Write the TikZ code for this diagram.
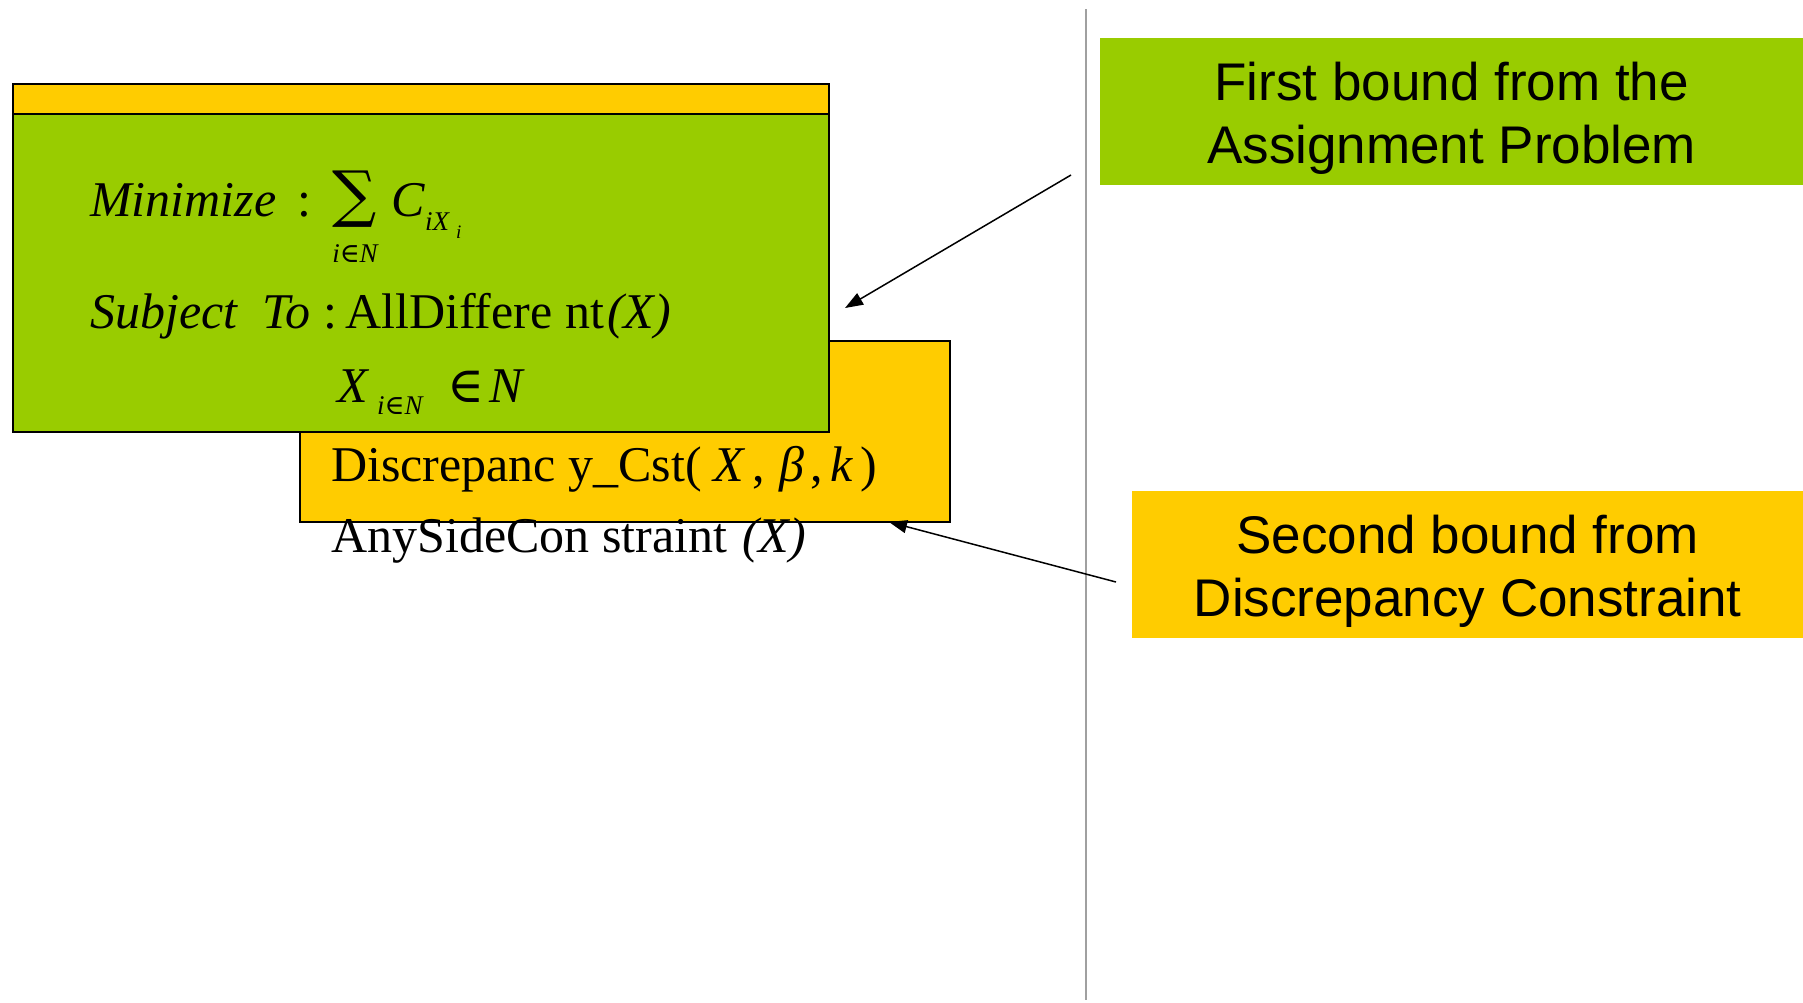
\documentclass[tikz,border=0pt]{standalone}
\usepackage{fontspec}
\setmainfont{Liberation Serif}
\newfontfamily\labelfont{Liberation Sans}
\newfontfamily\symfont{DejaVu Serif}
\usetikzlibrary{arrows.meta}
\definecolor{boxgreen}{HTML}{99CC00}
\definecolor{boxyellow}{HTML}{FFCC00}
\definecolor{rulegray}{HTML}{A0A0A0}
\newcommand{\elem}{{\symfont ∈}}
\begin{document}
\begin{tikzpicture}[x=1pt,y=-1pt,
  panel/.style={draw=black,line width=2pt,inner sep=0pt,anchor=north west},
  labelbox/.style={inner sep=0pt,anchor=north west,minimum height=147pt},
  labeltext/.style={inner sep=0pt,align=center,
    font=\labelfont\fontsize{53}{63}\selectfont},
  eq/.style={inner sep=0pt,anchor=base west,font=\fontsize{50}{60}\selectfont},
  eqsub/.style={inner sep=0pt,anchor=base west,font=\fontsize{27}{30}\selectfont},
  pointer/.style={line width=1.5pt,-{Triangle[length=18pt,width=13pt]}}]
\useasboundingbox (0,0) rectangle (1803,1002);
\fill[white] (0,0) rectangle (1803,1002);

% separator
\draw[rulegray,line width=2pt] (1086,9) -- (1086,1000);

% stacked model boxes
\node[panel,fill=boxyellow,minimum width=816.5pt,minimum height=153pt] (back) at (11.5,83) {};
\node[panel,fill=boxyellow,minimum width=650pt,minimum height=181pt] (side) at (299,340) {};
\node[panel,fill=boxgreen,minimum width=816.5pt,minimum height=318pt] (model) at (11.5,113) {};

% objective
\node[eq] (minw) at (90,216) {\itshape Minimize};
\node[eq] (colA) at (297,216) {:};
\node[inner sep=0pt,font=\symfont\fontsize{62}{62}\selectfont] (sum) at (355,199) {∑};
\node[eqsub,anchor=base] (sumidx) at (355,262) {\itshape i\elem N};
\node[eq] (cost) at (391,216) {\itshape C};
\node[eqsub] (costsub) at (425,230) {\itshape iX};
\node[inner sep=0pt,anchor=base west,font=\fontsize{19}{20}\selectfont] (costsubsub) at (456,238) {\itshape i};

% constraints
\node[eq] (subj) at (90,328) {\itshape Subject\ \ To};
\node[eq] (colB) at (323,328) {:};
\node[eq] (alldiff) at (345,328) {AllDiffere nt};
\node[eq] (alldiffarg) at (607,328) {\itshape (X)};
\node[eq] (xvar) at (337,402) {\itshape X};
\node[eqsub] (xidx) at (377,414) {\itshape i\elem N};
\node[eq] (member) at (447,402) {\elem};
\node[eq] (dom) at (489,402) {\itshape N};

\node[eq] (disc) at (331,481) {Discrepanc y\_Cst(};
\node[eq] (discX) at (713,481) {\itshape X};
\node[eq] (commaA) at (752,481) {,};
\node[eq] (discB) at (779,481) {\itshape β};
\node[eq] (commaB) at (810,481) {,};
\node[eq] (discK) at (830,481) {\itshape k};
\node[eq] (discR) at (860,481) {)};
\node[eq] (anyside) at (331,552) {AnySideCon straint};
\node[eq] (anysideX) at (742,552) {\itshape (X)};

% bound labels
\node[labelbox,fill=boxgreen,minimum width=703pt] (first) at (1100,38) {};
\node[labeltext] (firstText) at ([yshift=-7pt]first.center)
  {First bound from the\\Assignment Problem};
\node[labelbox,fill=boxyellow,minimum width=671pt] (second) at (1132,491) {};
\node[labeltext] (secondText) at ([yshift=-7pt]second.center)
  {Second bound from\\Discrepancy Constraint};

% pointers
\coordinate (firstTail) at (1071,175);
\coordinate (firstHead) at (845,308);
\coordinate (secondTail) at (1116,582);
\coordinate (secondHead) at (889,522);
\draw[pointer] (firstTail) -- (firstHead);
\draw[pointer] (secondTail) -- (secondHead);
\end{tikzpicture}
\end{document}
